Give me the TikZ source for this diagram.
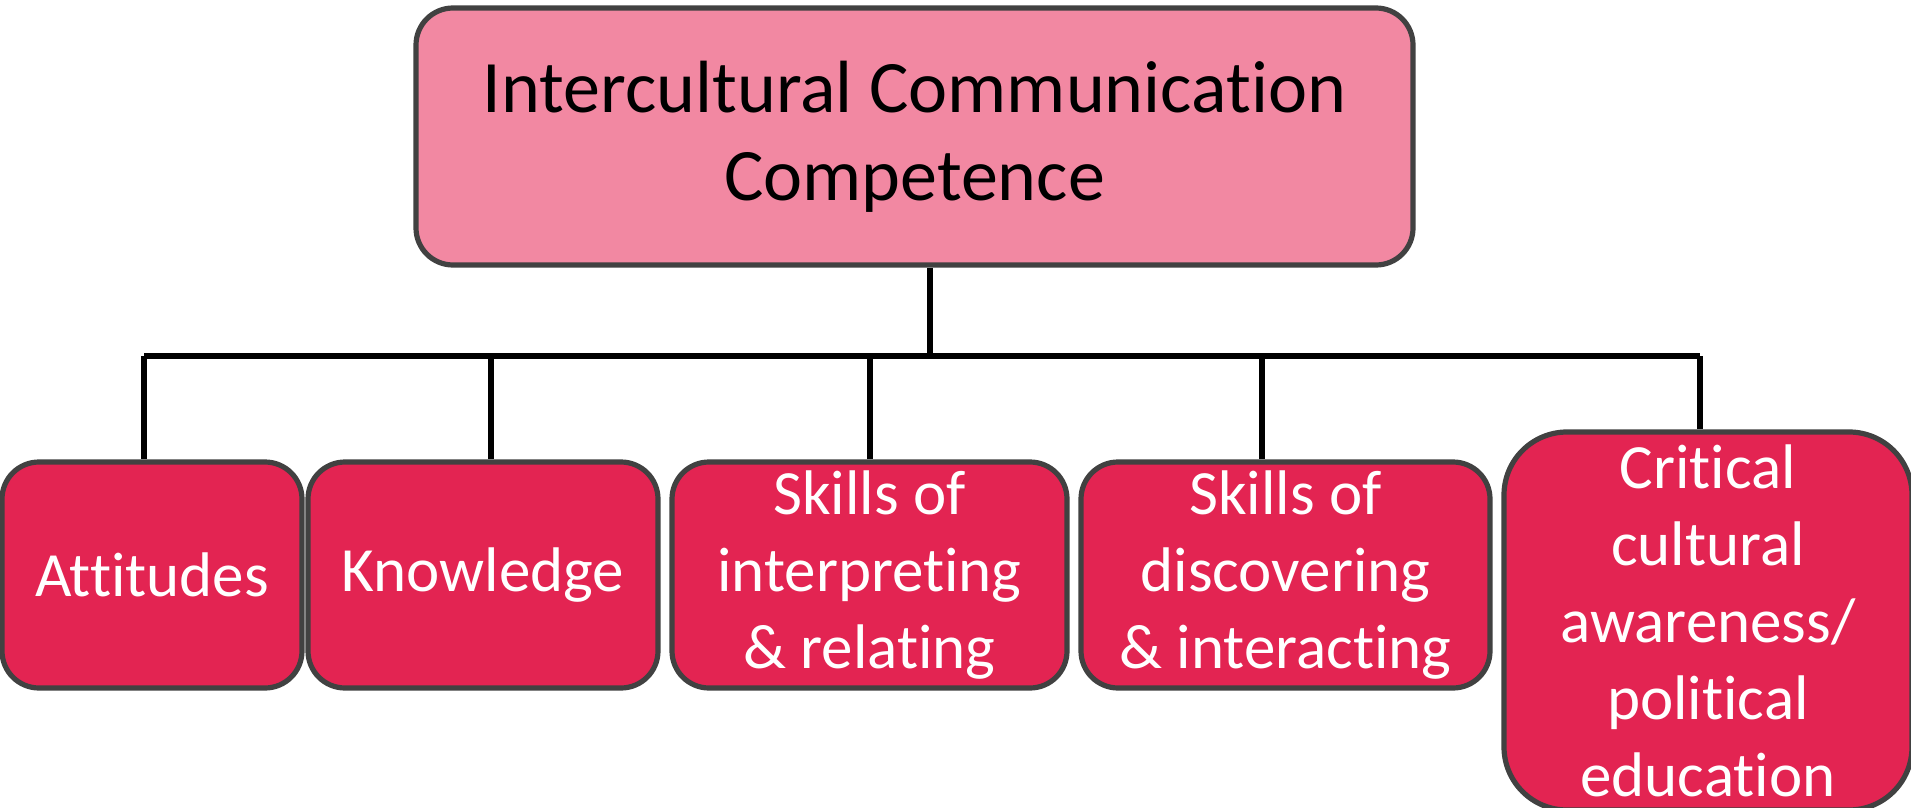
\documentclass[tikz,border=0pt]{standalone}
\usepackage{fontspec}
\setmainfont{Carlito}[Ligatures=NoCommon]
\definecolor{toppink}{HTML}{F288A2}
\definecolor{subred}{HTML}{E32452}
\definecolor{edgegrey}{HTML}{414141}

\begin{document}
\begin{tikzpicture}[x=0.5pt,y=-0.5pt,
    topbox/.style={draw=edgegrey, line width=2.6pt, fill=toppink, rounded corners=18.5pt,
      minimum width=498.5pt, minimum height=128.5pt, inner sep=0pt, align=center,
      font=\fontsize{37pt}{44pt}\selectfont},
    subbox/.style={draw=edgegrey, line width=2.6pt, fill=subred, text=white, rounded corners=18.5pt,
      minimum height=113pt, inner sep=0pt, align=center,
      font=\fontsize{31.5pt}{38.5pt}\selectfont},
    link/.style={line width=2.8pt}]

    \useasboundingbox (0,0) rectangle (1911,808);

    \node[topbox] (ICC) at (914.5,136.5) {Intercultural Communication\\Competence};
    \node[subbox, minimum width=150pt] (Att) at (152,575) {Attitudes};
    \node[subbox, minimum width=175pt] (Know) at (483,575) {Knowledge};
    \node[subbox, minimum width=197.5pt] (SkInt) at (869.5,575) {Skills of\\interpreting\\\& relating};
    \node[subbox, minimum width=204.5pt] (SkDis) at (1285.5,575) {Skills of\\discovering\\\& interacting};
    \node[subbox, minimum width=204pt, minimum height=189pt, rounded corners=31.5pt] (Crit) at (1708,621)
      {Critical\\cultural\\awareness/\\political\\education};

    \coordinate (hub) at (930,356);
    \coordinate (b1) at (144,356);
    \coordinate (b2) at (491,356);
    \coordinate (b3) at (870,356);
    \coordinate (b4) at (1262,356);
    \coordinate (b5) at (1700,356);

    \draw[link] (ICC.south -| hub) -- (hub);
    \draw[link] (b1) -- (b5);
    \draw[link] (b1) -- (b1 |- Att.north);
    \draw[link] (b2) -- (b2 |- Know.north);
    \draw[link] (b3) -- (b3 |- SkInt.north);
    \draw[link] (b4) -- (b4 |- SkDis.north);
    \draw[link] (b5) -- (b5 |- Crit.north);
\end{tikzpicture}
\end{document}
